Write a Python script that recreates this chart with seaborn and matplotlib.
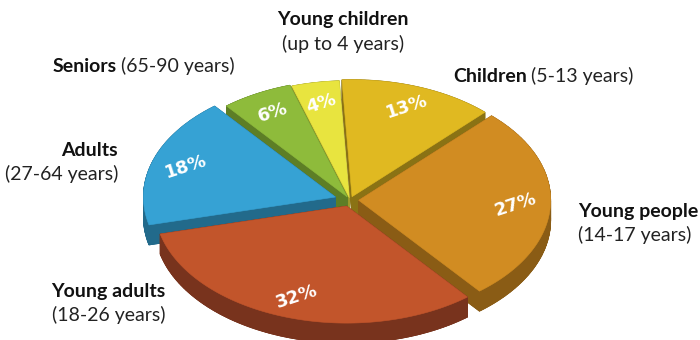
import numpy as np
import matplotlib
matplotlib.use("Agg")
import matplotlib.pyplot as plt
import seaborn as sns
from matplotlib.patches import Polygon

# ---------------- data ----------------
categories = ["Children", "Young people", "Young adults", "Adults", "Seniors", "Young children"]
age_ranges = ["(5-13 years)", "(14-17 years)", "(18-26 years)", "(27-64 years)",
              "(65-90 years)", "(up to 4 years)"]
shares = [13, 27, 32, 18, 6, 4]
pct_labels = ["13%", "27%", "32%", "18%", "6%", "4%"]

# ---------------- styles ----------------
top_colors = ["#E0B921", "#D18C22", "#C2552B", "#36A2D4", "#8EBB3B", "#E8E43F"]
side_colors = ["#8A7214", "#8A5C15", "#78331D", "#226A8B", "#5D7E26", "#9C992A"]
explode = [0.03, 0.045, 0.055, 0.08, 0.03, 0.02]

sns.set_theme(style="white")
plt.rcParams['font.family'] = ['Lato', 'DejaVu Sans']
palette_top = sns.color_palette(top_colors)
palette_side = sns.color_palette(side_colors)

fig = plt.figure(figsize=(7, 3.4), dpi=100)
ax = fig.add_axes([0, 0, 1, 1])
ax.set_xlim(0, 700)
ax.set_ylim(340, 0)
ax.axis("off")

# layout of the projected (tilted) pie
CX, CY, RX, RY, DEPTH = 350.0, 200.0, 192.0, 117.0, 20.0
START = 93.0

fr = np.asarray(shares, dtype=float) / np.sum(shares)
ends = START - 360.0 * np.cumsum(fr)
starts = ends + 360.0 * fr
mids = (starts + ends) / 2.0


def proj(r, ang_deg, dx, dy):
    a = np.deg2rad(ang_deg)
    return CX + dx + RX * r * np.cos(a), CY + dy - RY * r * np.sin(a)


order = np.argsort(-np.sin(np.deg2rad(mids)))  # back to front
for i in order:
    m = np.deg2rad(mids[i])
    dx = RX * explode[i] * np.cos(m)
    dy = -RY * explode[i] * np.sin(m)
    angs = np.linspace(starts[i], ends[i], 120)
    xs, ys = proj(1.0, angs, dx, dy)
    tip = (CX + dx, CY + dy)
    top = np.vstack([[tip], np.column_stack([xs, ys])])
    bottom = top + np.array([0.0, DEPTH])
    n = len(top)
    # side walls
    for k in range(n):
        p0, p1 = top[k], top[(k + 1) % n]
        quad = np.array([p0, p1, p1 + [0, DEPTH], p0 + [0, DEPTH]])
        ax.add_patch(Polygon(quad, closed=True, facecolor=palette_side[i],
                             edgecolor=palette_side[i], lw=0.6))
    ax.add_patch(Polygon(bottom, closed=True, facecolor=palette_side[i],
                         edgecolor=palette_side[i], lw=0.6))
    ax.add_patch(Polygon(top, closed=True, facecolor=palette_top[i],
                         edgecolor=palette_top[i], lw=0.4))
    lx, ly = proj(0.82, mids[i], dx, dy)
    ax.text(lx, ly, pct_labels[i], color="white", fontsize=13, fontweight="bold",
            family=["DejaVu Sans"], ha="center", va="center", rotation=18)

# ---------------- category labels ----------------
# (x, y, mode): mode 'inline' -> bold name followed by range on same line
label_layout = {
    "Children": (453, 76, "inline"),
    "Seniors": (53, 66, "inline"),
    "Young children": (343, 20, "center"),
    "Adults": (118, 150, "right"),
    "Young adults": (165, 291, "right"),
    "Young people": (578, 211, "left"),
}
FS = 14
fig.canvas.draw()
renderer = fig.canvas.get_renderer()
inv = ax.transData.inverted()
for name, rng in zip(categories, age_ranges):
    x, y, mode = label_layout[name]
    if mode == "inline":
        t = ax.text(x, y, name, fontsize=FS, fontweight="bold", color="#111111",
                    ha="left", va="center")
        bb = t.get_window_extent(renderer=renderer)
        x_end = inv.transform((bb.x1, bb.y0))[0]
        ax.text(x_end + 4, y, rng, fontsize=FS, color="#222222", ha="left", va="center")
    else:
        ax.text(x, y, name, fontsize=FS, fontweight="bold", color="#111111",
                ha=mode, va="center")
        ax.text(x, y + 24, rng, fontsize=FS, color="#222222", ha=mode, va="center")

fig.savefig("out.png", dpi=100)
